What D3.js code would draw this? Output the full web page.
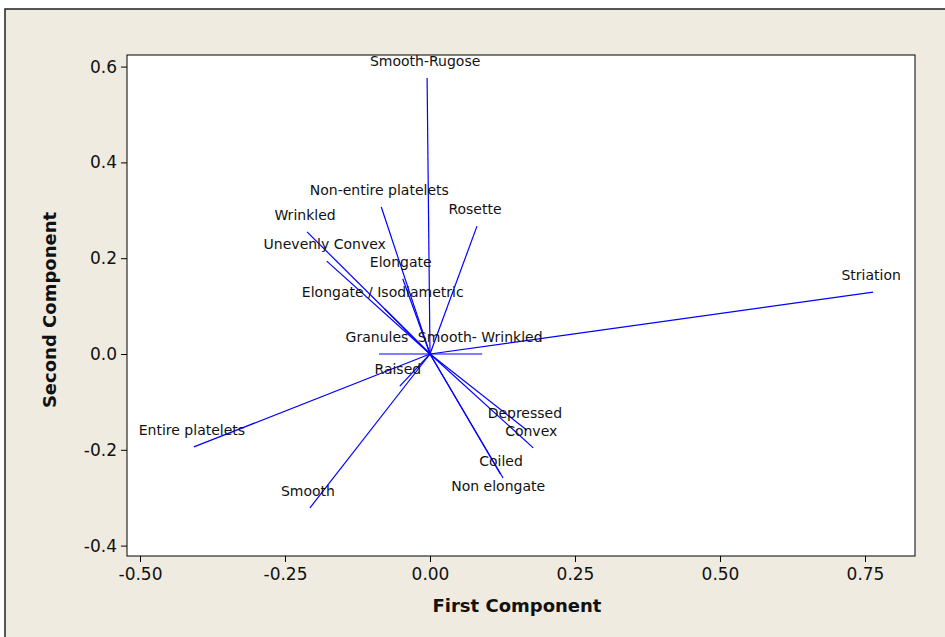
<!DOCTYPE html>
<html>
<head>
<meta charset="utf-8">
<script src="https://cdn.jsdelivr.net/npm/d3@7"></script>
<style>
  html, body { margin: 0; padding: 0; background: #ffffff; }
  svg { display: block; }
</style>
</head>
<body>
<svg id="chart" width="945" height="637"></svg>
<script>
// ---- data ----
const variables = ["Smooth-Rugose", "Non-entire platelets", "Rosette", "Wrinkled",
  "Unevenly Convex", "Elongate", "Elongate / Isodiametric", "Granules",
  "Smooth- Wrinkled", "Striation", "Raised", "Entire platelets", "Smooth",
  "Depressed", "Convex", "Coiled", "Non elongate"];
const firstComponent  = [-0.005, -0.084, 0.081, -0.212, -0.178, -0.047, -0.078, -0.088,
  0.090, 0.764, -0.052, -0.407, -0.207, 0.167, 0.178, 0.126, 0.121];
const secondComponent = [0.576, 0.307, 0.267, 0.255, 0.194, 0.157, 0.094, 0.000,
  0.000, 0.129, -0.067, -0.194, -0.321, -0.159, -0.196, -0.259, -0.250];
const xTicks = [-0.50, -0.25, 0.00, 0.25, 0.50, 0.75];
const yTicks = [-0.4, -0.2, 0.0, 0.2, 0.4, 0.6];
const xTitle = "First Component";
const yTitle = "Second Component";

// ---- layout ----
const svg = d3.select("#chart");
const W = 945, H = 637;
const plot = { left: 127, top: 55, right: 915, bottom: 556 };
const bg = "#efebe1";
const font = "'DejaVu Sans', Verdana, sans-serif";

svg.append("rect").attr("x", 0).attr("y", 0).attr("width", W).attr("height", H).attr("fill", "#ffffff");
svg.append("rect").attr("x", 5).attr("y", 9).attr("width", W + 10).attr("height", H + 10)
  .attr("fill", bg).attr("stroke", "#222").attr("stroke-width", 1.5);

const x = d3.scaleLinear().domain([-0.5224, 0.8362]).range([plot.left, plot.right]);
const y = d3.scaleLinear().domain([-0.4217, 0.6242]).range([plot.bottom, plot.top]);

svg.append("rect").attr("x", plot.left).attr("y", plot.top)
  .attr("width", plot.right - plot.left).attr("height", plot.bottom - plot.top)
  .attr("fill", "#ffffff").attr("stroke", "#000").attr("stroke-width", 1);

const hyphen = f => v => f(v).replace("\u2212", "-");
const fmtX = hyphen(d3.format(".2f"));
const fmtY = hyphen(d3.format(".1f"));
const xAxis = svg.append("g").attr("transform", `translate(0,${plot.bottom})`)
  .call(d3.axisBottom(x).tickValues(xTicks).tickFormat(fmtX).tickSize(6).tickPadding(6));
const yAxis = svg.append("g").attr("transform", `translate(${plot.left},0)`)
  .call(d3.axisLeft(y).tickValues(yTicks).tickFormat(fmtY).tickSize(6).tickPadding(4));
[xAxis, yAxis].forEach(g => {
  g.select(".domain").remove();
  g.selectAll(".tick line").attr("stroke", "#000");
  g.selectAll(".tick text").attr("fill", "#111")
    .style("font-family", font).style("font-size", "17px");
});

svg.append("text").attr("x", (plot.left + plot.right) / 2 - 4).attr("y", 612)
  .attr("text-anchor", "middle").attr("fill", "#111")
  .style("font-family", font).style("font-size", "18px")
  .style("font-weight", "bold").text(xTitle);
svg.append("text").attr("transform", `translate(56,310) rotate(-90)`)
  .attr("text-anchor", "middle").attr("fill", "#111")
  .style("font-family", font).style("font-size", "18px")
  .style("font-weight", "bold").text(yTitle);

const data = variables.map((name, i) => ({ name, pc1: firstComponent[i], pc2: secondComponent[i] }));
const labelBelow = new Set(["Non elongate"]);

const g = svg.append("g");
g.selectAll("line.vec").data(data).join("line").attr("class", "vec")
  .attr("x1", x(0)).attr("y1", y(0))
  .attr("x2", d => x(d.pc1)).attr("y2", d => y(d.pc2))
  .attr("stroke", "#0000ff").attr("stroke-width", 1.2);

g.selectAll("text.lab").data(data).join("text").attr("class", "lab")
  .attr("x", d => x(d.pc1) - 2)
  .attr("y", d => y(d.pc2) + (labelBelow.has(d.name) ? 17 : -12))
  .attr("text-anchor", "middle").attr("fill", "#111")
  .style("font-family", font).style("font-size", "14px")
  .text(d => d.name);
</script>
</body>
</html>
